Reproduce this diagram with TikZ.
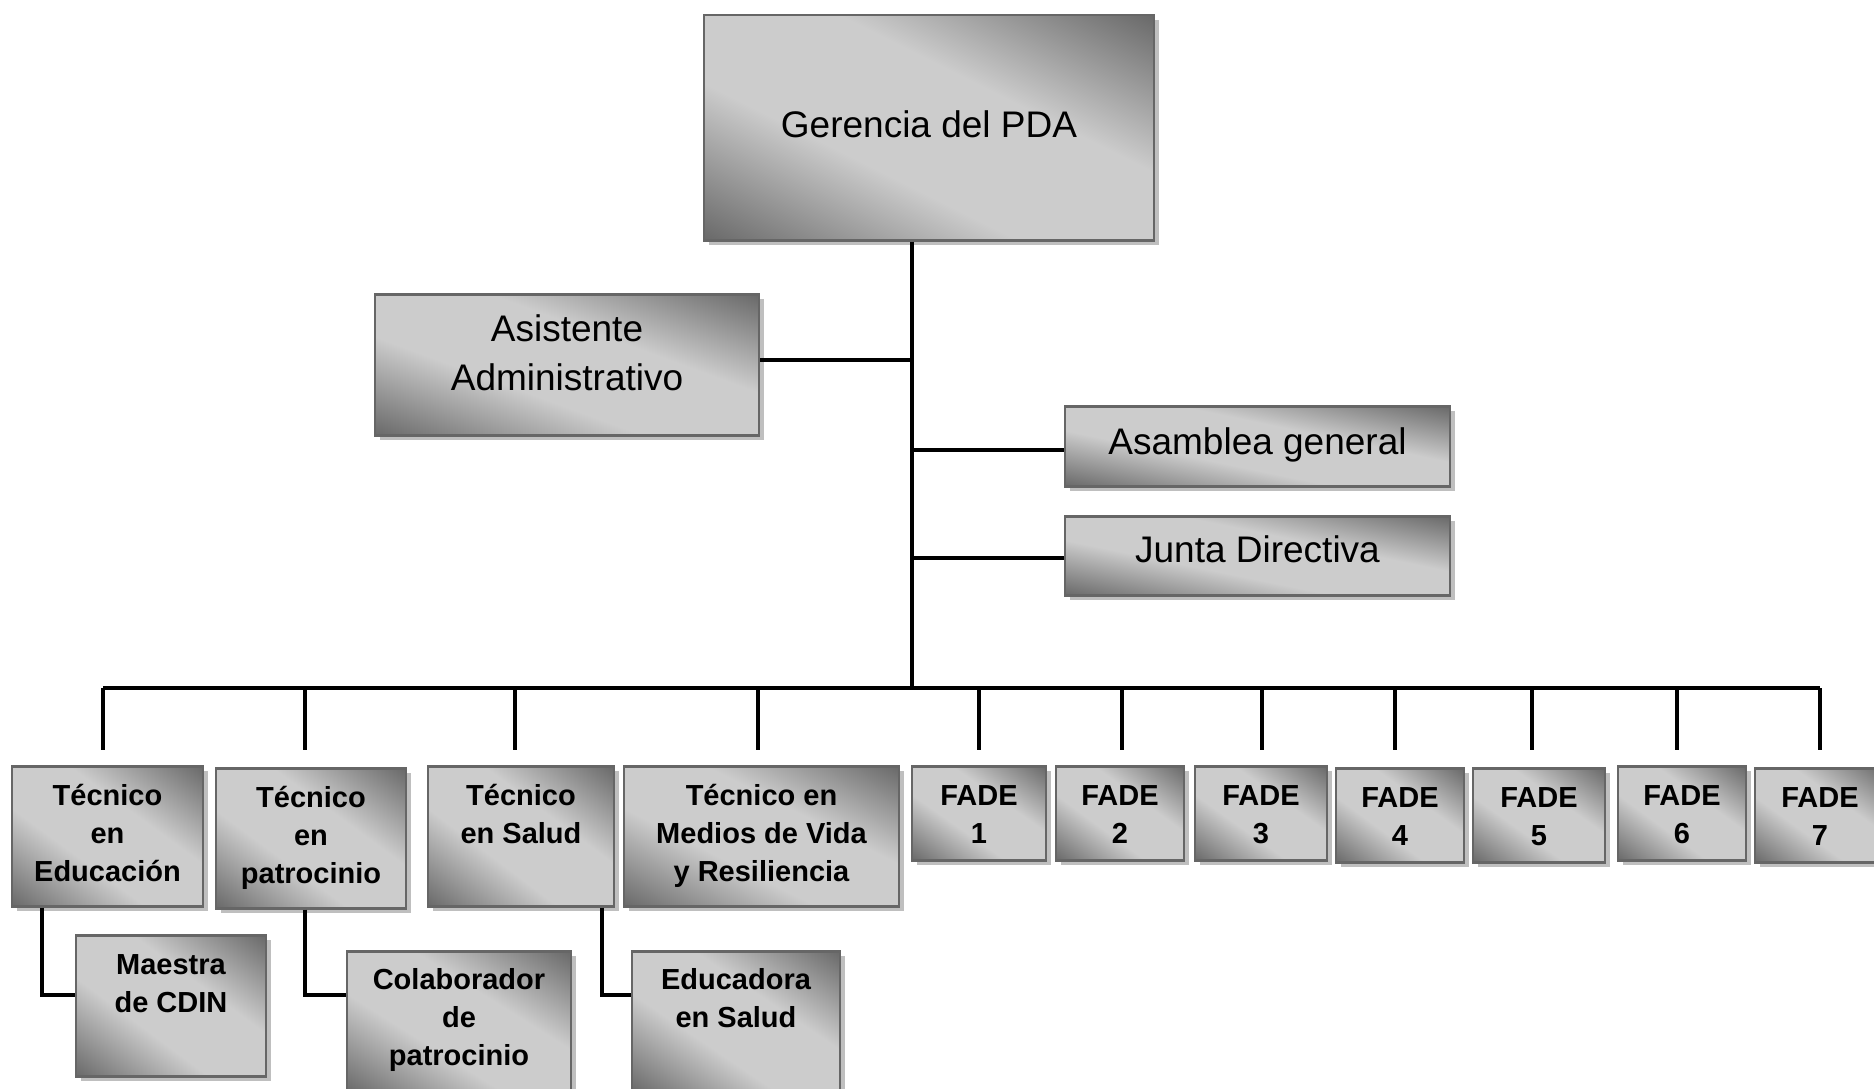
\documentclass[tikz,border=0pt]{standalone}
\usepackage{fontspec}
\setmainfont{Liberation Sans}
\usetikzlibrary{shadows}
\usetikzlibrary{positioning}
% diagonal grey: dark in the upper right and lower left corners, light across the middle
\pgfdeclarefunctionalshading{orgshade}{\pgfpointorigin}{\pgfpoint{100bp}{100bp}}{}{
   add 100 sub 50 div abs
   0.3 sub dup 0 lt {pop 0} if 0.7 div
   -0.39 mul 0.8 add
   dup dup}

\begin{document}
\begin{tikzpicture}[
      x=1pt,y=-1pt,
      orgbox/.style n args={3}{% width/height/first baseline
         rectangle,
         anchor=north,
         draw=black!60,
         line width=2.5pt,
         shade,
         shading=orgshade,
         drop shadow={shadow xshift=5pt,shadow yshift=-5pt,fill=black!25,opacity=1},
         inner sep=0pt,
         execute at begin node={\begin{minipage}[c][#2pt][t]{#1pt}\centering\rule{0pt}{#3pt}},
         execute at end node={\end{minipage}}},
      topfont/.style={font=\fontsize{37}{49}\selectfont},
      unitfont/.style={font=\bfseries\fontsize{29}{38}\selectfont},
      myline/.style={line width=4pt,black}
      ]
      \useasboundingbox (0,0) rectangle (1874,1089);

      % upper part
      \node[orgbox={450}{225}{122},topfont] (ger) at (929,14) {Gerencia del PDA};
      \node[orgbox={384}{141}{47},topfont] (asis) at (567,293) {Asistente\\Administrativo};
      \node[orgbox={385}{80}{48},topfont] (asam) at (1257.5,405) {Asamblea general};
      \node[orgbox={385}{79}{46},topfont,below=27.5pt of asam] (junta) {Junta Directiva};
      \coordinate (bus) at (912,688);

      % row of units
      \node[orgbox={191}{140}{39},unitfont] (t1) at (107.5,765) {Técnico\\en\\Educación};
      \node[orgbox={190}{140}{39},unitfont] (t2) at (311,767) {Técnico\\en\\patrocinio};
      \node[orgbox={186}{140}{39},unitfont] (t3) at (521,765) {Técnico\\en Salud};
      \node[orgbox={275}{140}{39},unitfont] (t4) at (761.5,765) {Técnico en\\Medios de Vida\\y Resiliencia};
      \foreach \i/\x/\y/\w in {1/979/765/134,2/1120/765/128,3/1261/765/132,4/1400/767/128,
                               5/1539/767/132,6/1682/765/128,7/1820/767/130}
         \node[orgbox={\w}{94}{39},unitfont] (f\i) at (\x,\y) {FADE\\\i};

      % second level
      \node[orgbox={190}{141}{39},unitfont] (maestra) at (171,934) {Maestra\\de CDIN};
      \node[orgbox={224}{141}{38},unitfont] (colab) at (459,950) {Colaborador\\de\\patrocinio};
      \node[orgbox={208}{141}{38},unitfont] (educ) at (736,950) {Educadora\\en Salud};

      % connectors
      \draw[myline] (ger.south -| bus) -- (bus);
      \draw[myline] ([yshift=5pt]asis.east) -- ([yshift=5pt]asis.east -| bus);
      \draw[myline] ([yshift=-4pt]asam.west) -- ([yshift=-4pt]asam.west -| bus);
      \draw[myline] ([yshift=-2pt]junta.west) -- ([yshift=-2pt]junta.west -| bus);
      \draw[myline] (bus -| t1.north) ++(-4.5,0) -- (bus -| f7.north);
      \foreach \n/\dx in {t1/-4.5,t2/-6,t3/-6,t4/-3.5,f1/0,f2/2,f3/1,f4/-5,f5/-7,f6/-5,f7/0}
         \draw[myline] (bus -| \n.north) ++(\dx,0) -- ++(0,62);

      \draw[myline] ([xshift=31pt]t1.south west) |- ([yshift=-61pt]maestra.north west);
      \draw[myline] ([xshift=-6pt]t2.south) |- ([yshift=-45pt]colab.north west);
      \draw[myline] ([xshift=-13pt]t3.south east) |- ([yshift=-45pt]educ.north west);
\end{tikzpicture}
\end{document}
